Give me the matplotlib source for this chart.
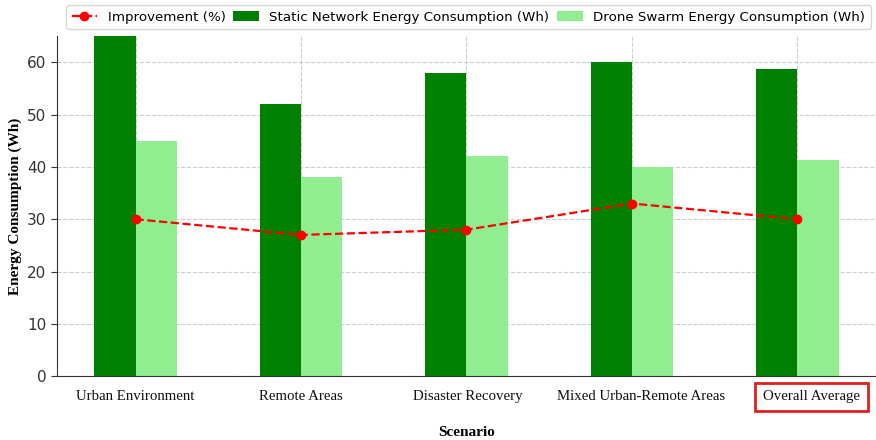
import matplotlib
matplotlib.use("Agg")
import matplotlib.pyplot as plt
import numpy as np

scenarios = ["Urban Environment", "Remote Areas", "Disaster Recovery",
             "Mixed Urban-Remote Areas", "Overall Average"]
static_energy = [65, 52, 58, 60, 58.75]
drone_energy = [45, 38, 42, 40, 41.25]
improvement = [30, 27, 28, 33, 30]

fig = plt.figure(figsize=(8.76, 4.4), dpi=100)
ax = fig.add_axes([0.065, 0.145, 0.935, 0.773])

x = np.arange(len(scenarios))
w = 0.25
ax.bar(x - w / 2, static_energy, w, color="green", label="Static Network Energy Consumption (Wh)", zorder=2)
ax.bar(x + w / 2, drone_energy, w, color="lightgreen", label="Drone Swarm Energy Consumption (Wh)", zorder=2)
ax.plot(x, improvement, color="red", linestyle="--", marker="o", markersize=6,
        linewidth=1.6, label="Improvement (%)", zorder=3)

ax.set_ylim(0, 65)
ax.set_xlim(-0.475, 4.475)
ax.set_yticks(range(0, 61, 10))
ax.set_xticks(x)
ax.set_xticklabels([""] * len(scenarios))
ax.tick_params(axis="y", labelsize=11, colors="#333333", length=4)
ax.tick_params(axis="x", length=0)
ax.grid(True, linestyle="--", color="#cccccc", linewidth=0.8, zorder=0)
ax.set_axisbelow(True)
for s in ["top", "right"]:
    ax.spines[s].set_visible(False)
ax.spines["left"].set_color("#333333")
ax.spines["bottom"].set_color("#333333")

# category labels (pasted-on serif labels, the last two slightly shifted right)
label_shift = [0.0, 0.0, 0.01, 0.055, 0.085]
trans = ax.get_xaxis_transform()
for i, name in enumerate(scenarios):
    t = ax.text(x[i] + label_shift[i], -0.06, name, transform=trans, ha="center", va="center",
                family="Liberation Serif", fontsize=10.7, color="#111111")
    if i == len(scenarios) - 1:
        t.set_bbox(dict(facecolor="none", edgecolor="#e02020", linewidth=2, pad=5.5))

ax.set_ylabel("Energy Consumption (Wh)", family="Liberation Serif", fontweight="bold", fontsize=11)
ax.set_xlabel("Scenario", family="Liberation Serif", fontweight="bold", fontsize=11, labelpad=32)

ax.legend(loc="upper right", bbox_to_anchor=(1.0, 1.0), bbox_transform=fig.transFigure,
          ncol=3, fontsize=9.6, frameon=True, borderaxespad=0.4, columnspacing=0.6,
          handlelength=1.9, handletextpad=0.8)

fig.savefig("out.png", dpi=100)
